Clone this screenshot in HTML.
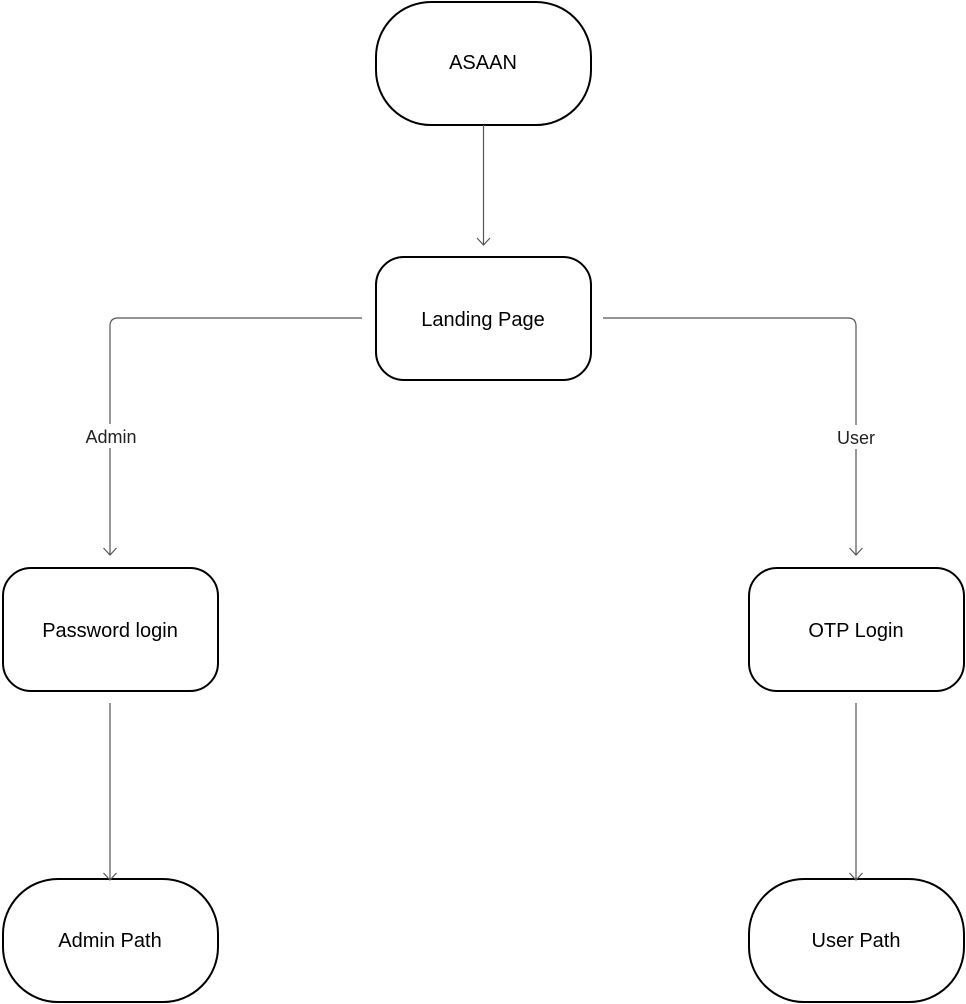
<!DOCTYPE html>
<html><head><style>body{margin:0;background:#fff}</style></head><body>
<svg width="966" height="1004" xmlns="http://www.w3.org/2000/svg" style="display:block">
<g fill="#fff" stroke="#000" stroke-width="2">
<rect x="376" y="2" width="215" height="123" rx="55"/>
<rect x="376" y="257" width="215" height="123" rx="28"/>
<rect x="3" y="568" width="215" height="123" rx="28"/>
<rect x="749" y="568" width="215" height="123" rx="28"/>
<rect x="3" y="879" width="215" height="123" rx="55"/>
<rect x="749" y="879" width="215" height="123" rx="55"/>
</g>
<g fill="none" stroke="#555" stroke-width="1.2">
<path d="M483.5 125V245M477 238l6.5 7 6.5-7"/>
<path d="M362 318H118q-8 0-8 8V555M103.5 548l6.5 7 6.5-7"/>
<path d="M603 318H848q8 0 8 8V555M849.5 548l6.5 7 6.5-7"/>
<path d="M110 703V880M103.5 873l6.5 7 6.5-7"/>
<path d="M856 703V880M849.5 873l6.5 7 6.5-7"/>
</g>
<rect x="80" y="424" width="62" height="24" fill="#fff"/>
<rect x="832" y="425" width="48" height="24" fill="#fff"/>
<g font-family="Liberation Sans, sans-serif" font-size="20" text-anchor="middle" fill="#000">
<text x="483" y="69">ASAAN</text>
<text x="483" y="326">Landing Page</text>
<text x="110" y="637">Password login</text>
<text x="856" y="637">OTP Login</text>
<text x="110" y="947">Admin Path</text>
<text x="856" y="947">User Path</text>
<g font-size="18" fill="#222"><text x="111" y="443">Admin</text><text x="856" y="444">User</text></g>
</g>
</svg>
</body></html>
